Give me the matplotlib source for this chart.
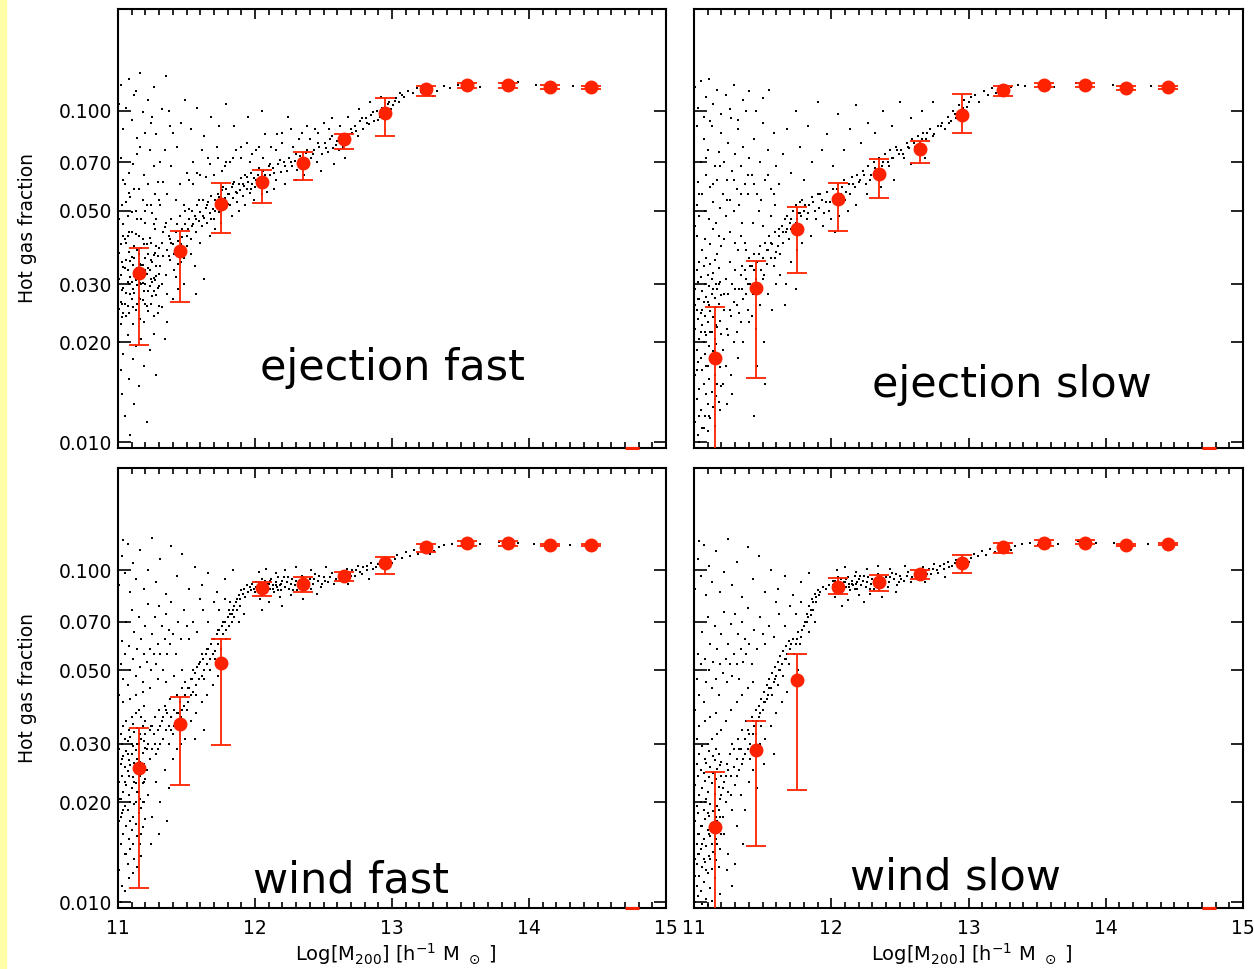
import numpy as np
import matplotlib
matplotlib.use("Agg")
import matplotlib.pyplot as plt
from matplotlib.ticker import MultipleLocator, FixedLocator, NullLocator, FixedFormatter
from matplotlib.patches import Rectangle

# halo mass bins of the red medians (same for all panels)
mass_bins = [11.15, 11.45, 11.75, 12.05, 12.35, 12.65, 12.95, 13.25, 13.55, 13.85, 14.15, 14.45]
offscale_bins = [14.75]   # bin whose value falls below the plotted range

ef_med = [0.0323, 0.0378, 0.0522, 0.0609, 0.0697, 0.0822, 0.0984, 0.1161, 0.1195, 0.1195, 0.1180, 0.1180]
ef_lo = [0.0196, 0.0265, 0.0429, 0.0527, 0.0618, 0.0767, 0.0841, 0.1109, 0.1175, 0.1175, 0.1165, 0.1168]
ef_hi = [0.0386, 0.0433, 0.0604, 0.0662, 0.0750, 0.0851, 0.1096, 0.1189, 0.1215, 0.1215, 0.1195, 0.1192]

es_med = [0.0180, 0.0292, 0.0441, 0.0541, 0.0644, 0.0767, 0.0973, 0.1154, 0.1197, 0.1197, 0.1170, 0.1180]
es_lo = [0.0060, 0.0156, 0.0324, 0.0434, 0.0545, 0.0698, 0.0859, 0.1109, 0.1177, 0.1177, 0.1155, 0.1168]
es_hi = [0.0256, 0.0352, 0.0512, 0.0604, 0.0716, 0.0813, 0.1124, 0.1190, 0.1217, 0.1217, 0.1185, 0.1192]

wf_med = [0.0254, 0.0345, 0.0524, 0.0881, 0.0908, 0.0962, 0.1052, 0.1170, 0.1203, 0.1203, 0.1190, 0.1190]
wf_lo = [0.0110, 0.0225, 0.0297, 0.0837, 0.0857, 0.0927, 0.0971, 0.1130, 0.1185, 0.1185, 0.1178, 0.1178]
wf_hi = [0.0334, 0.0415, 0.0618, 0.0923, 0.0955, 0.0989, 0.1097, 0.1195, 0.1220, 0.1220, 0.1202, 0.1202]

ws_med = [0.0168, 0.0288, 0.0467, 0.0891, 0.0918, 0.0970, 0.1054, 0.1175, 0.1204, 0.1210, 0.1190, 0.1198]
ws_lo = [0.0060, 0.0148, 0.0217, 0.0845, 0.0865, 0.0940, 0.0982, 0.1123, 0.1185, 0.1195, 0.1178, 0.1186]
ws_hi = [0.0247, 0.0352, 0.0557, 0.0948, 0.0966, 0.1000, 0.1110, 0.1204, 0.1230, 0.1228, 0.1202, 0.1210]

# individual haloes: (log M * 100, hot gas fraction * 1e4)
ef_cloud = [
    (1101,310),(1102,265),(1103,350),(1104,292),(1105,410),(1106,240),(1107,330),(1108,375),(1109,280),(1110,305),
    (1111,255),(1112,360),(1113,425),(1114,298),(1115,318),(1116,270),(1117,385),(1118,342),(1119,230),(1120,300),
    (1121,395),(1122,285),(1123,330),(1124,262),(1125,350),(1126,312),(1127,440),(1128,278),(1129,365),(1130,322),
    (1101,372),(1102,228),(1103,288),(1104,338),(1105,262),(1106,398),(1107,305),(1108,246),(1109,352),(1110,430),
    (1111,290),(1112,318),(1113,250),(1114,380),(1115,272),(1116,345),(1117,300),(1118,410),(1119,286),(1120,360),
    (1121,258),(1122,335),(1123,295),(1124,400),(1125,276),(1126,368),(1127,308),(1128,340),(1129,245),(1130,385),
    (1102,320),(1104,245),(1106,355),(1108,300),(1110,270),(1112,390),(1114,335),(1116,302),(1118,268),(1120,330),
    (1122,370),(1124,310),(1126,285),(1128,392),(1130,295),(1103,262),(1107,418),(1111,342),(1115,370),(1119,318),
    (1101,252),(1102,395),(1103,238),(1104,420),(1105,335),(1106,282),(1107,258),(1108,432),(1109,315),(1110,362),
    (1111,228),(1112,282),(1113,308),(1114,262),(1115,420),(1116,235),(1117,342),(1118,302),(1119,395),(1120,262),
    (1121,322),(1122,248),(1123,412),(1124,355),(1125,305),(1126,240),(1127,372),(1128,318),(1129,292),(1130,258),
    (1101,470),(1103,520),(1105,600),(1107,480),(1109,550),(1111,690),(1113,500),(1115,580),(1117,470),(1119,640),
    (1121,520),(1123,760),(1125,490),(1127,560),(1129,610),(1102,720),(1104,455),(1106,530),(1108,650),(1110,495),
    (1112,580),(1114,470),(1116,780),(1118,540),(1120,460),(1122,600),(1124,520),(1126,680),(1128,470),(1130,540),
    (1104,620),(1108,565),(1114,740),(1120,500),(1126,455),
    (1102,1200),(1104,880),(1106,1020),(1108,1250),(1110,940),(1112,1120),(1114,830),(1116,1300),(1118,990),(1120,860),
    (1122,1080),(1124,920),(1126,1180),(1128,850),(1132,1010),(1135,1270),(1138,900),(1101,1050),(1113,1150),(1125,960),
    (1101,200),(1102,165),(1103,140),(1104,185),(1105,120),(1107,210),(1108,155),(1109,105),(1111,178),(1112,130),
    (1113,195),(1115,148),(1117,205),(1119,170),(1121,115),(1123,190),(1126,212),(1128,160),
    (1131,340),(1132,400),(1133,365),(1134,445),(1135,320),(1136,380),(1137,420),(1138,355),(1139,470),(1140,395),
    (1141,330),(1142,430),(1143,375),(1144,405),(1145,480),(1146,350),(1147,415),(1148,385),(1149,455),(1150,420),
    (1132,300),(1135,460),(1138,410),(1141,370),(1144,345),(1147,440),(1150,390),(1136,280),(1142,315),(1148,360),
    (1133,430),(1137,365),(1139,400),(1143,455),(1146,395),(1149,500),
    (1131,520),(1133,610),(1136,560),(1139,680),(1142,540),(1145,600),(1148,520),(1150,650),(1134,760),(1140,860),
    (1146,920),(1149,1080),(1137,1000),(1143,780),(1131,700),
    (1132,255),(1136,230),(1140,270),(1144,290),(1148,300),(1134,205),
    (1151,440),(1152,470),(1153,410),(1154,500),(1155,455),(1156,480),(1157,430),(1158,520),(1159,465),(1160,495),
    (1161,450),(1162,540),(1163,475),(1164,510),(1165,460),(1166,530),(1167,490),(1168,555),(1169,505),(1170,470),
    (1171,540),(1172,515),(1173,560),(1174,495),(1175,530),(1176,575),(1177,510),(1178,545),(1179,580),(1180,525),
    (1152,505),(1154,450),(1157,470),(1159,540),(1162,480),(1165,520),(1168,470),(1171,500),(1174,550),(1177,590),
    (1180,560),(1184,600),(1187,565),(1191,600),(1194,630),(1197,580),(1201,620),(1203,670),(1207,640),(1211,690),
    (1152,620),(1155,700),(1158,650),(1161,760),(1164,630),(1167,690),(1170,640),(1173,720),(1176,660),(1179,700),
    (1155,600),(1160,640),(1166,720),(1172,780),(1178,680),(1184,720),(1190,780),(1196,700),(1201,760),(1206,720),
    (1153,880),(1158,1020),(1163,840),(1168,960),(1174,900),(1179,1050),
    (1153,370),(1156,340),(1160,400),(1163,310),(1167,420),(1171,440),(1175,460),(1157,280),
    (1181,560),(1182,520),(1183,590),(1184,545),(1185,610),(1186,570),(1187,530),(1188,600),(1189,575),(1190,625),
    (1191,555),(1192,595),(1193,640),(1194,580),(1195,610),(1196,565),(1197,650),(1198,600),(1199,625),(1200,590),
    (1202,640),(1204,605),(1206,660),(1208,620),(1210,680),
    (1182,700),(1186,760),(1190,720),(1194,800),(1198,740),(1203,780),(1207,850),(1185,900),(1195,960),(1205,1000),
    (1183,480),(1188,500),(1193,520),(1199,540),(1205,560),(1209,570),
    (1211,640),(1213,670),(1215,620),(1217,690),(1219,655),(1221,700),(1223,660),(1225,720),(1227,680),(1229,705),
    (1231,665),(1233,730),(1235,690),(1237,745),(1239,700),
    (1214,650),(1218,710),(1222,680),(1226,700),(1230,740),(1234,700),(1238,760),(1242,740),(1246,800),(1252,770),
    (1212,780),(1216,850),(1220,800),(1226,880),(1232,820),(1238,900),(1224,960),
    (1215,760),(1220,860),(1228,780),(1234,860),(1240,820),(1246,860),(1254,880),
    (1214,580),(1222,600),(1230,620),(1236,640),
    (1241,720),(1243,760),(1245,700),(1247,780),(1249,740),(1251,800),(1253,750),(1255,820),(1257,770),(1259,790),
    (1261,760),(1263,830),(1265,800),(1267,850),(1269,810),
    (1256,840),(1260,810),(1264,780),(1270,880),(1274,870),(1278,950),(1282,920),(1286,990),(1290,940),(1294,1000),
    (1244,880),(1250,920),(1256,950),(1262,900),(1268,960),(1248,660),(1258,690),(1266,720),
    (1271,860),(1273,900),(1275,840),(1277,930),(1279,880),(1281,950),(1283,910),(1285,970),(1287,930),(1289,1000),
    (1291,960),(1293,1020),(1295,980),(1297,1050),(1299,1010),(1276,1010),(1284,1060),(1292,1100),
    (1298,1060),(1302,1070),(1306,1130),
    (1301,1040),(1303,1090),(1305,1060),(1307,1120),(1309,1100),(1312,1150),(1315,1130),(1318,1170),(1321,1140),
    (1324,1180),(1327,1120),(1330,1110),(1333,1150),
    (1338,1190),(1342,1170),(1348,1200),(1358,1210),(1364,1180),(1380,1215),(1392,1220),(1405,1200),(1432,1190),(1448,1185),
]

es_cloud = [
    (1101,115),(1101,160),(1101,220),(1101,290),(1102,135),(1102,190),(1102,250),(1102,330),(1103,105),(1103,175),
    (1103,235),(1103,305),(1104,145),(1104,205),(1104,270),(1104,350),(1105,125),(1105,180),(1105,245),(1105,315),
    (1106,110),(1106,165),(1106,225),(1106,285),(1107,150),(1107,200),(1107,265),(1107,340),(1108,120),(1108,185),
    (1108,240),(1108,300),(1109,140),(1109,210),(1109,275),(1109,360),(1110,130),(1110,170),(1110,230),(1110,320),
    (1111,155),(1111,195),(1111,260),(1111,295),(1112,118),(1112,178),(1112,248),(1112,345),(1113,142),(1113,215),
    (1113,280),(1113,310),(1114,128),(1114,188),(1114,238),(1114,325),(1115,160),(1115,205),(1115,272),(1115,355),
    (1116,138),(1116,198),(1116,255),(1116,300),(1117,150),(1117,222),(1117,290),(1117,370),(1118,132),(1118,180),
    (1118,262),(1118,335),(1119,168),(1119,232),(1119,305),(1120,148),(1120,212),(1120,278),(1120,390),(1110,108),
    (1115,112),(1104,100),(1108,410),(1112,395),(1106,380),(1102,420),(1118,420),(1114,440),
    (1101,260),(1102,165),(1103,270),(1104,120),(1105,215),(1106,250),(1107,110),(1108,215),(1109,170),(1110,265),
    (1111,120),(1112,215),(1113,175),(1114,290),(1115,135),(1116,225),(1117,185),(1118,300),(1119,125),(1120,180),
    (1121,190),(1122,250),(1123,310),(1124,220),(1125,280),(1126,350),(1127,240),(1128,300),(1129,200),(1130,330),
    (1131,260),(1132,380),(1133,290),(1134,230),(1135,340),(1136,270),(1137,400),(1138,310),(1139,250),(1140,360),
    (1121,150),(1123,170),(1125,210),(1127,160),(1129,265),(1131,215),(1133,245),(1135,290),(1137,330),(1139,300),
    (1122,410),(1126,430),(1130,400),(1134,420),(1138,380),(1124,130),(1128,140),(1132,180),(1136,200),(1140,230),
    (1122,280),(1126,250),(1130,290),(1134,320),(1138,280),(1141,340),(1144,330),(1147,370),(1150,310),(1153,380),
    (1141,300),(1142,340),(1143,280),(1144,370),(1145,310),(1146,350),(1147,290),(1148,390),(1149,330),(1150,360),
    (1151,320),(1152,400),(1153,345),(1154,380),(1155,420),(1156,360),(1157,395),(1158,340),(1159,430),(1160,375),
    (1156,400),(1159,360),(1162,440),(1165,430),(1168,440),(1171,470),(1174,460),(1177,490),(1181,520),(1183,490),
    (1142,240),(1145,220),(1148,260),(1151,200),(1154,280),(1157,250),(1160,300),(1146,170),(1152,150),(1144,120),
    (1143,460),(1147,500),(1150,450),(1156,480),(1159,520),
    (1161,390),(1162,420),(1163,370),(1164,450),(1165,400),(1166,470),(1167,430),(1168,480),(1169,410),(1170,460),
    (1171,440),(1172,500),(1173,450),(1174,520),(1175,470),(1176,490),(1177,530),(1178,480),(1179,540),(1180,500),
    (1182,470),(1184,520),(1186,550),(1188,500),(1190,560),
    (1187,530),(1189,470),(1192,560),(1196,530),(1198,500),(1202,540),(1204,580),(1208,590),(1210,540),(1214,560),
    (1163,320),(1167,300),(1171,350),(1175,380),(1179,400),(1185,420),(1166,260),(1174,290),
    (1191,510),(1193,540),(1195,490),(1197,570),(1199,530),(1201,580),(1203,550),(1205,600),(1207,560),(1209,620),
    (1211,570),(1213,600),(1215,630),(1217,590),(1219,640),
    (1216,600),(1220,610),(1224,640),(1228,620),(1232,670),(1234,640),(1238,700),(1242,680),(1244,720),(1248,760),
    (1194,450),(1200,470),(1206,480),(1212,500),(1218,520),(1203,430),
    (1221,620),(1223,660),(1225,600),(1227,680),(1229,640),(1231,700),(1233,660),(1235,720),(1237,680),(1239,740),
    (1241,700),(1243,760),(1245,720),(1247,780),(1249,740),(1226,560),(1236,590),(1246,620),
    (1252,740),(1256,780),(1260,800),(1264,760),(1266,820),(1270,860),(1274,840),(1280,900),(1286,920),(1290,980),
    (1251,760),(1253,720),(1255,800),(1257,770),(1259,820),(1261,780),(1263,840),(1265,800),(1267,860),(1269,820),
    (1272,880),(1275,850),(1278,900),(1258,690),(1268,720),
    (1281,920),(1283,880),(1285,960),(1287,930),(1289,1000),(1291,950),(1293,1040),(1295,1000),(1297,1080),(1299,1030),
    (1302,1100),(1305,1120),(1308,1060),(1296,1020),(1300,1060),
    (1311,1150),(1314,1120),(1317,1170),(1320,1130),(1323,1160),(1327,1140),(1331,1180),(1336,1200),(1341,1190),
    (1352,1210),(1362,1180),(1378,1210),(1405,1195),(1433,1185),(1449,1180),
    (1101,450),(1102,520),(1103,610),(1104,480),(1105,700),(1106,560),(1107,820),(1108,500),(1109,640),(1110,760),
    (1111,470),(1112,590),(1113,900),(1114,530),(1115,680),(1116,460),(1117,620),(1118,750),(1119,510),(1120,860),
    (1121,560),(1122,700),(1123,480),(1124,620),(1125,800),(1126,540),(1127,950),(1128,660),(1129,500),(1130,740),
    (1131,580),(1132,880),(1133,520),(1134,680),(1135,460),(1136,780),(1137,600),(1138,1000),(1139,560),(1140,720),
    (1142,640),(1144,820),(1146,560),(1148,700),(1150,920),(1152,620),(1154,760),(1156,580),(1158,860),(1160,680),
    (1104,560),(1109,720),(1114,600),(1119,680),(1124,540),(1129,620),(1134,560),(1139,640),(1144,600),(1149,540),
    (1154,640),(1158,560),
    (1101,1180),(1103,1020),(1105,1230),(1107,960),(1109,1100),(1111,1250),(1114,1050),(1117,1160),(1120,980),(1123,1120),
    (1126,1010),(1129,1200),(1132,940),(1136,1080),(1140,1150),(1145,1000),(1150,1090),(1155,1160),(1102,900),(1112,930),
    (1162,600),(1165,740),(1168,880),(1171,650),(1174,1000),(1177,780),(1180,620),(1183,900),(1186,700),(1190,1060),
    (1193,760),(1197,850),(1201,680),(1205,980),(1209,760),(1214,880),(1218,1040),(1222,800),(1227,920),(1232,860),
    (1238,1000),(1244,900),(1250,1060),(1258,950),(1266,1000),(1274,1060),
]

wf_cloud = [
    (1101,125),(1101,175),(1101,230),(1101,290),(1102,150),(1102,205),(1102,260),(1102,320),(1103,112),(1103,185),
    (1103,240),(1103,300),(1104,160),(1104,215),(1104,275),(1104,340),(1105,140),(1105,195),(1105,255),(1105,310),
    (1106,170),(1106,225),(1106,285),(1106,350),(1107,130),(1107,190),(1107,248),(1107,305),(1108,155),(1108,210),
    (1108,268),(1108,330),(1109,145),(1109,200),(1109,258),(1109,315),(1110,165),(1110,220),(1110,280),(1110,360),
    (1111,180),(1111,238),(1111,295),(1111,345),(1112,135),(1112,198),(1112,262),(1112,325),(1113,172),(1113,228),
    (1113,288),(1113,372),(1114,158),(1114,215),(1114,270),(1114,335),(1115,185),(1115,245),(1115,300),(1115,380),
    (1116,150),(1116,205),(1116,265),(1116,320),(1117,192),(1117,252),(1117,310),(1117,360),(1118,168),(1118,228),
    (1118,282),(1118,340),(1119,200),(1119,260),(1119,305),(1119,390),(1120,178),(1120,235),(1120,292),(1120,350),
    (1102,100),(1105,108),(1108,118),(1111,122),(1114,128),(1117,138),(1104,400),(1109,410),(1113,420),(1118,430),
    (1101,205),(1102,180),(1103,270),(1104,190),(1105,230),(1106,140),(1107,280),(1108,240),(1109,175),(1110,300),
    (1111,150),(1112,230),(1113,200),(1114,300),(1115,215),(1116,240),(1117,160),(1118,200),(1119,230),(1120,320),
    (1121,250),(1122,300),(1123,270),(1124,340),(1125,290),(1126,320),(1127,360),(1128,280),(1129,330),(1130,380),
    (1131,300),(1132,350),(1133,310),(1134,390),(1135,330),(1136,370),(1137,340),(1138,410),(1139,360),(1140,320),
    (1141,380),(1142,350),(1143,420),(1144,370),(1145,400),(1146,360),(1147,440),(1148,390),(1149,420),(1150,380),
    (1121,290),(1123,330),(1125,340),(1127,300),(1129,290),(1131,340),(1133,360),(1135,380),(1137,300),(1139,330),
    (1141,340),(1143,370),(1145,350),(1147,380),(1149,460),
    (1122,210),(1125,180),(1128,230),(1131,200),(1134,250),(1137,220),(1140,270),(1143,290),(1146,300),(1149,310),
    (1124,150),(1130,160),(1136,175),
    (1123,440),(1129,470),(1135,460),(1141,480),(1147,500),
    (1151,400),(1152,440),(1153,420),(1154,470),(1155,430),(1156,490),(1157,450),(1158,510),(1159,470),(1160,530),
    (1161,480),(1162,540),(1163,500),(1164,560),(1165,520),(1166,580),(1167,540),(1168,600),(1169,560),(1170,620),
    (1171,570),(1172,640),(1173,600),(1174,660),(1175,620),(1176,680),(1177,640),(1178,700),(1179,660),(1180,720),
    (1181,680),(1182,740),(1183,700),(1184,760),(1185,720),
    (1151,440),(1153,470),(1155,500),(1157,420),(1159,520),(1161,560),(1163,470),(1165,580),(1167,500),(1169,620),
    (1171,540),(1173,660),(1175,580),(1177,700),(1179,620),(1181,760),(1183,740),(1185,780),(1187,820),(1189,780),
    (1153,350),(1157,370),(1161,400),(1165,420),(1169,450),(1173,480),(1177,520),(1156,310),(1163,330),
    (1186,800),(1187,760),(1188,840),(1189,820),(1190,870),(1191,850),(1192,880),(1193,830),(1194,900),(1195,860),
    (1196,890),(1197,870),(1198,910),(1199,880),(1200,860),(1188,700),(1192,740),
    (1201,890),(1202,860),(1203,920),(1204,880),(1205,900),(1206,850),(1207,930),(1208,890),(1209,870),(1210,910),
    (1211,880),(1212,940),(1213,900),(1214,860),(1215,920),(1216,890),(1217,950),(1218,900),(1219,870),(1220,930),
    (1222,890),(1224,950),(1226,910),(1228,870),(1230,930),(1232,900),(1234,960),(1236,920),(1238,880),(1240,940),
    (1242,910),(1244,970),(1246,930),(1248,890),(1250,950),(1253,920),(1256,980),(1259,940),
    (1201,920),(1203,870),(1205,940),(1207,880),(1209,910),(1211,930),(1213,880),(1215,900),(1217,870),(1219,910),
    (1221,950),(1223,920),(1225,880),(1227,940),(1229,900),(1231,870),(1233,930),(1235,950),(1237,900),(1239,920),
    (1241,880),(1243,940),(1247,960),(1249,910),(1251,930),(1255,950),(1258,910),(1262,970),(1266,990),(1270,960),
    (1274,1000),(1278,970),(1282,1030),(1286,1010),(1290,1040),(1296,1050),
    (1203,990),(1208,1010),(1215,980),(1222,1000),(1230,1020),(1241,1000),(1252,1020),
    (1204,820),(1210,800),(1218,830),(1226,840),(1235,820),(1245,850),(1205,760),(1220,780),
    (1261,950),(1263,990),(1265,960),(1267,1010),(1269,970),(1271,1000),(1273,960),(1275,1030),(1277,990),(1279,1020),
    (1282,1000),(1285,1050),(1288,1020),(1291,1060),(1294,1030),(1297,1070),(1300,1050),(1268,910),(1283,940),
    (1302,1080),(1304,1110),(1307,1090),(1310,1130),(1313,1100),(1316,1150),(1319,1120),(1322,1160),(1325,1130),
    (1328,1120),(1331,1140),(1334,1170),
    (1338,1190),(1344,1200),(1350,1180),(1357,1210),(1364,1195),(1378,1215),(1392,1210),(1404,1200),(1430,1190),(1448,1195),
    (1101,420),(1102,520),(1103,610),(1104,470),(1105,560),(1106,700),(1107,450),(1108,590),(1109,500),(1110,760),
    (1111,540),(1112,650),(1113,480),(1114,580),(1115,720),(1116,510),(1117,620),(1118,460),(1119,560),(1120,680),
    (1121,530),(1122,790),(1123,580),(1124,500),(1125,640),(1126,560),(1127,720),(1128,520),(1129,600),(1130,780),
    (1131,560),(1132,680),(1133,500),(1134,620),(1135,740),(1136,560),(1137,660),(1138,600),(1139,800),(1140,640),
    (1142,560),(1144,700),(1146,620),(1148,760),(1150,680),
    (1101,900),(1103,1100),(1105,980),(1107,1200),(1109,860),(1111,1050),(1113,940),(1116,1150),(1119,880),(1122,1000),
    (1125,1250),(1128,920),(1131,1080),(1135,850),(1139,1180),(1143,960),(1147,1120),(1152,880),(1156,1020),(1161,900),
    (1166,980),(1172,860),(1178,940),(1184,1000),(1104,1230),
    (1152,620),(1155,700),(1158,650),(1162,760),(1166,700),(1170,800),(1174,760),(1178,820),(1182,800),(1160,820),
]

ws_cloud = [
    (1101,100),(1101,135),(1101,175),(1101,225),(1102,112),(1102,150),(1102,195),(1102,260),(1103,104),(1103,140),
    (1103,185),(1103,240),(1104,120),(1104,160),(1104,210),(1104,280),(1105,108),(1105,145),(1105,200),(1105,250),
    (1106,128),(1106,170),(1106,220),(1106,295),(1107,115),(1107,155),(1107,190),(1107,245),(1108,132),(1108,178),
    (1108,232),(1108,270),(1109,102),(1109,148),(1109,205),(1109,262),(1110,122),(1110,165),(1110,215),(1110,300),
    (1111,138),(1111,182),(1111,238),(1111,285),(1112,110),(1112,158),(1112,198),(1112,255),(1113,126),(1113,172),
    (1113,228),(1113,310),(1114,142),(1114,188),(1114,245),(1114,275),(1115,118),(1115,162),(1115,212),(1115,268),
    (1116,134),(1116,180),(1116,235),(1116,290),(1117,150),(1117,195),(1117,252),(1117,320),(1118,128),(1118,168),
    (1118,222),(1118,280),(1119,145),(1119,205),(1119,258),(1120,160),(1120,210),(1120,265),(1120,330),(1104,340),
    (1108,350),(1112,360),(1102,310),(1116,370),(1106,99),(1113,101),(1119,106),(1110,98),
    (1101,120),(1102,130),(1103,160),(1104,140),(1105,170),(1106,150),(1107,135),(1108,200),(1109,125),(1110,185),
    (1111,160),(1112,135),(1113,150),(1114,165),(1115,140),(1116,155),(1117,175),(1118,190),(1119,180),(1120,240),
    (1121,180),(1122,230),(1123,200),(1124,260),(1125,215),(1126,280),(1127,240),(1128,300),(1129,255),(1130,225),
    (1131,270),(1132,310),(1133,250),(1134,290),(1135,330),(1136,270),(1137,310),(1138,350),(1139,290),(1140,320),
    (1141,300),(1142,360),(1143,320),(1144,340),(1145,380),
    (1121,220),(1123,240),(1125,250),(1127,210),(1129,290),(1131,240),(1133,290),(1135,260),(1137,280),(1139,330),
    (1141,270),(1143,350),(1145,320),(1147,360),(1149,340),
    (1122,160),(1125,140),(1128,190),(1131,170),(1134,210),(1137,190),(1140,230),(1143,250),(1146,220),(1124,125),
    (1130,130),(1136,150),(1128,112),
    (1123,350),(1127,380),(1131,400),(1135,420),(1139,440),(1143,460),
    (1146,350),(1147,390),(1148,370),(1149,410),(1150,380),(1151,430),(1152,400),(1153,450),(1154,420),(1155,470),
    (1156,440),(1157,490),(1158,460),(1159,510),(1160,480),(1161,530),(1162,500),(1163,550),(1164,520),(1165,570),
    (1166,540),(1167,590),(1168,560),(1169,610),(1170,580),(1172,620),(1174,600),(1176,650),(1178,630),(1180,680),
    (1151,400),(1153,410),(1155,440),(1157,420),(1159,470),(1161,450),(1163,500),(1165,480),(1167,540),(1169,520),
    (1171,600),(1173,560),(1175,620),(1177,600),(1179,660),(1182,700),(1185,730),(1187,760),(1189,800),(1191,840),
    (1148,300),(1152,310),(1156,340),(1160,370),(1164,400),(1168,430),(1172,470),(1176,500),(1151,260),(1158,280),
    (1181,700),(1182,740),(1183,720),(1184,780),(1185,760),(1186,820),(1187,800),(1188,850),(1189,830),(1190,870),
    (1192,860),(1194,890),(1196,880),(1198,900),(1184,650),(1188,700),
    (1201,900),(1202,870),(1203,930),(1204,890),(1205,910),(1206,860),(1207,940),(1208,900),(1209,880),(1210,920),
    (1211,890),(1212,950),(1213,910),(1214,870),(1215,930),(1216,900),(1217,960),(1218,910),(1219,880),(1220,940),
    (1222,900),(1224,960),(1226,920),(1228,880),(1230,940),(1232,910),(1234,970),(1236,930),(1238,890),(1240,950),
    (1242,920),(1244,980),(1246,940),(1248,900),(1250,960),(1253,930),(1256,990),(1259,950),
    (1201,930),(1203,880),(1205,950),(1207,890),(1209,920),(1211,940),(1213,890),(1215,910),(1217,880),(1219,920),
    (1221,960),(1223,930),(1225,890),(1227,950),(1229,910),(1231,880),(1233,940),(1235,960),(1237,910),(1239,930),
    (1241,890),(1243,950),(1247,970),(1249,920),(1251,940),(1255,960),(1258,920),(1262,980),(1266,1000),(1270,970),
    (1274,1010),(1278,980),(1282,1040),(1286,1020),(1290,1050),(1296,1060),
    (1204,1000),(1210,1020),(1218,990),(1226,1010),(1234,1030),(1243,1010),(1254,1030),
    (1203,830),(1212,810),(1220,840),(1228,850),(1237,830),(1247,860),(1208,780),(1224,800),
    (1261,960),(1263,1000),(1265,970),(1267,1020),(1269,980),(1271,1010),(1273,970),(1275,1040),(1277,1000),(1279,1030),
    (1282,1010),(1285,1060),(1288,1030),(1291,1070),(1294,1040),(1297,1080),(1300,1060),(1268,920),(1283,950),
    (1302,1090),(1304,1120),(1307,1100),(1310,1140),(1313,1110),(1316,1160),(1319,1130),(1322,1170),(1325,1140),
    (1328,1130),(1331,1150),(1334,1180),
    (1339,1200),(1345,1210),(1351,1190),(1358,1215),(1365,1200),(1380,1220),(1393,1210),(1406,1205),(1431,1195),(1449,1200),
    (1101,380),(1102,470),(1103,560),(1104,420),(1105,520),(1106,650),(1107,400),(1108,540),(1109,460),(1110,720),
    (1111,500),(1112,600),(1113,440),(1114,530),(1115,680),(1116,470),(1117,580),(1118,420),(1119,520),(1120,640),
    (1121,490),(1122,750),(1123,540),(1124,460),(1125,600),(1126,520),(1127,690),(1128,480),(1129,560),(1130,740),
    (1131,520),(1132,640),(1133,470),(1134,580),(1135,700),(1136,530),(1137,620),(1138,560),(1139,770),(1140,600),
    (1142,520),(1144,660),(1146,580),(1148,720),(1150,640),
    (1101,880),(1103,1080),(1105,960),(1107,1190),(1109,840),(1111,1030),(1113,920),(1116,1140),(1119,860),(1122,990),
    (1125,1240),(1128,900),(1131,1060),(1135,830),(1139,1170),(1143,940),(1147,1100),(1152,860),(1156,1000),(1161,880),
    (1166,960),(1172,840),(1178,920),(1184,980),(1104,1220),
    (1152,600),(1155,680),(1158,630),(1162,740),(1166,680),(1170,780),(1174,740),(1178,800),(1160,800),
]

panel_names = ["ejection fast", "ejection slow", "wind fast", "wind slow"]
yticks = [0.01, 0.02, 0.03, 0.05, 0.07, 0.1]
ytick_labels = ["0.010", "0.020", "0.030", "0.050", "0.070", "0.100"]
xticks = [11, 12, 13, 14, 15]

RED = "#ff2200"

fig = plt.figure(figsize=(12.54, 9.69), dpi=100)
fig.patches.append(Rectangle((0, 0), 6 / 1254, 1, transform=fig.transFigure,
                             color="#ffffa8", zorder=0))

W, H = 1254, 969
boxes = [(118, 9, 666, 448), (694, 9, 1243, 448),
         (118, 468, 666, 908), (694, 468, 1243, 908)]
clouds = [ef_cloud, es_cloud, wf_cloud, ws_cloud]
meds = [ef_med, es_med, wf_med, ws_med]
los = [ef_lo, es_lo, wf_lo, ws_lo]
his = [ef_hi, es_hi, wf_hi, ws_hi]
text_pos = [(0.501, 0.155), (0.579, 0.116), (0.426, 0.036), (0.477, 0.041)]

for i, (x0, y0, x1, y1) in enumerate(boxes):
    ax = fig.add_axes([x0 / W, 1 - y1 / H, (x1 - x0) / W, (y1 - y0) / H])
    pts = np.array(clouds[i], dtype=float)
    ax.plot(pts[:, 0] / 100, pts[:, 1] / 1e4, "s", ms=2.1, mew=0, color="k", zorder=2)

    med = np.array(meds[i])
    yerr = [med - np.array(los[i]), np.array(his[i]) - med]
    ax.errorbar(mass_bins, med, yerr=yerr, fmt="o", color=RED, ecolor=RED, ms=9,
                mfc=RED, mec=RED, elinewidth=1.3, capsize=7, capthick=1.3, zorder=3)

    ax.set_yscale("log")
    ax.set_xlim(11, 15)
    ax.set_ylim(0.0096, 0.203)
    ax.hlines([0.0096] * len(offscale_bins), np.array(offscale_bins) - 0.05,
              np.array(offscale_bins) + 0.05, color=RED, lw=2.2, clip_on=False, zorder=4)

    ax.xaxis.set_major_locator(FixedLocator(xticks))
    ax.xaxis.set_minor_locator(MultipleLocator(0.1))
    ax.yaxis.set_major_locator(FixedLocator(yticks))
    ax.yaxis.set_major_formatter(FixedFormatter(ytick_labels))
    ax.yaxis.set_minor_locator(NullLocator())

    ax.tick_params(which="both", direction="in", top=True, right=True, width=1.2,
                   labelsize=13.5)
    ax.tick_params(axis="x", which="major", length=7, pad=8)
    ax.tick_params(axis="x", which="minor", length=4)
    ax.tick_params(axis="y", which="major", length=9, pad=4)
    for s in ax.spines.values():
        s.set_linewidth(1.5)

    if i % 2 == 0:
        ax.set_ylabel("Hot gas fraction", fontsize=13.5)
        ax.yaxis.set_label_coords(-0.148, 0.5)
    else:
        ax.tick_params(axis="y", labelleft=False)
    if i >= 2:
        ax.set_xticklabels([str(t) for t in xticks])
        ax.set_xlabel(r"Log[M$_{200}$] [h$^{-1}$ M $_\odot$ ]", fontsize=14)
        ax.xaxis.set_label_coords(0.507, -0.076)
    else:
        ax.tick_params(axis="x", labelbottom=False)

    tx, ty = text_pos[i]
    ax.text(tx, ty, panel_names[i], transform=ax.transAxes, ha="center",
            va="baseline", fontsize=31, color="k", zorder=5)

fig.savefig("out.png", dpi=100)
